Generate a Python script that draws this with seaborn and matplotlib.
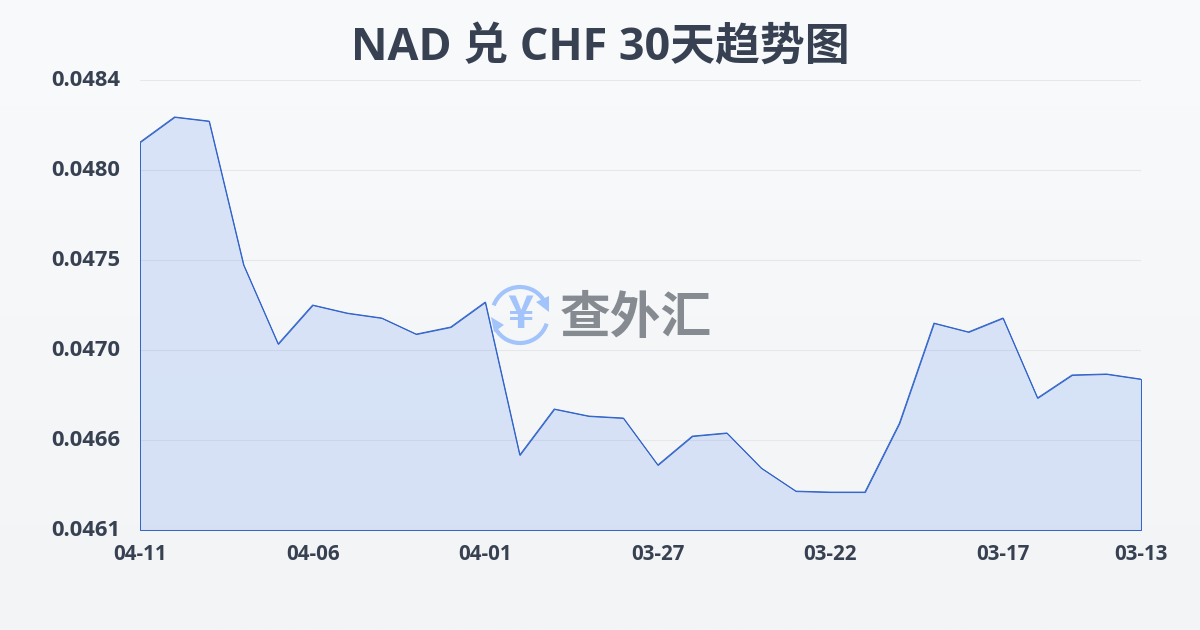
import numpy as np
import pandas as pd
import matplotlib
matplotlib.use('Agg')
import matplotlib.pyplot as plt
from matplotlib.patches import Arc, Polygon
from matplotlib.transforms import ScaledTranslation
import seaborn as sns

# dados
dates = ['04-11', '04-10', '04-09', '04-08', '04-07', '04-06', '04-05', '04-04', '04-03', '04-02',
         '04-01', '03-31', '03-30', '03-29', '03-28', '03-27', '03-26', '03-25', '03-24', '03-23',
         '03-22', '03-21', '03-20', '03-19', '03-18', '03-17', '03-16', '03-15', '03-14', '03-13']
rates = [0.048094, 0.048222, 0.048201, 0.047469, 0.047067, 0.047265, 0.047224, 0.047199, 0.047117, 0.047153,
         0.047280, 0.046502, 0.046736, 0.046700, 0.046690, 0.046451, 0.046598, 0.046614, 0.046435, 0.046318,
         0.046313, 0.046313, 0.046664, 0.047173, 0.047128, 0.047199, 0.046792, 0.046909, 0.046914, 0.046888]
y_labels = ['0.0461', '0.0466', '0.0470', '0.0475', '0.0480', '0.0484']
y_min, y_max = 0.04612, 0.04841

df = pd.DataFrame({'pos': range(len(dates)), 'date': dates, 'rate': rates})

sns.set_theme(style='white')
plt.rcParams['font.family'] = ['Open Sans', 'Noto Sans CJK SC', 'DejaVu Sans']
plt.rcParams['font.weight'] = 'bold'

W, H = 1200, 630
dark = '#374151'
line = '#2f62c9'

fig = plt.figure(figsize=(W / 100, H / 100), dpi=100)

# fundo em gradiente
bg = fig.add_axes([0, 0, 1, 1], zorder=0)
top, bottom = np.array([248, 250, 252]) / 255, np.array([243, 244, 246]) / 255
grad = np.linspace(0, 1, 256)[:, None, None] * (bottom - top) + top
bg.imshow(grad, aspect='auto', extent=[0, W, H, 0])
bg.axis('off')

ax = fig.add_axes([140 / W, 1 - 530 / H, 1001 / W, 450 / H], zorder=1)
ax.patch.set_alpha(0)
ax.fill_between(df.pos, df.rate, y_min, facecolor=(0.15, 0.41, 0.92, 0.14),
                edgecolor=line, linewidth=0.7, zorder=2)
sns.lineplot(data=df, x='pos', y='rate', color=line, linewidth=0.7, ax=ax, zorder=3)

ax.set_xlim(0, len(dates) - 1)
ax.set_ylim(y_min, y_max)
ax.set_xlabel('')
ax.set_ylabel('')
ax.set_xticks(df.pos[::5].tolist() + [len(dates) - 1])
ax.set_xticklabels(dates[::5] + [dates[-1]], fontsize=14.8, color=dark, fontweight='bold')
ax.set_yticks(np.linspace(y_min, y_max, len(y_labels)))
ax.set_yticklabels(y_labels, fontsize=15.8, color=dark, fontweight='bold')
ax.tick_params(axis='x', length=10, width=0.8, color='#e5e7eb', pad=0)
ax.tick_params(axis='y', length=0, pad=14)
# rótulos do eixo y um pouco acima da linha
up = ScaledTranslation(0, 2 / 100, fig.dpi_scale_trans)
for lab in ax.get_yticklabels():
    lab.set_transform(lab.get_transform() + up)
ax.grid(axis='y', color='#e5e7eb', linewidth=0.8, zorder=1)
ax.set_axisbelow(True)
sns.despine(ax=ax, left=True, bottom=True, top=True, right=True)

fig.text(600 / W, 1 - 48 / H, 'NAD 兑 CHF 30天趋势图', ha='center', va='center',
         fontsize=32.3, fontweight='bold', color=dark)

# marca d'água
wm = fig.add_axes([0, 0, 1, 1], zorder=2)
wm.set_xlim(0, W)
wm.set_ylim(H, 0)
wm.axis('off')
blue = '#a3c4fb'
wm.add_patch(Arc((520, 315), 56, 56, theta1=200, theta2=335, color=blue, lw=3))
wm.add_patch(Arc((520, 315), 56, 56, theta1=18, theta2=150, color=blue, lw=3))
wm.add_patch(Polygon([(536, 302), (549, 296), (549, 312)], color=blue, lw=0))
wm.add_patch(Polygon([(491, 317), (504, 325), (494, 332)], color=blue, lw=0))
wm.text(520, 315, '¥', ha='center', va='center', fontsize=32, color=blue, fontweight='bold',
        family=['Noto Sans CJK SC', 'DejaVu Sans'])
wm.text(636, 319, '查外汇', ha='center', va='center', fontsize=36.5, color='#868a91',
        fontweight='bold', family=['Noto Sans CJK SC', 'DejaVu Sans'])

fig.savefig('out.png', dpi=100)
